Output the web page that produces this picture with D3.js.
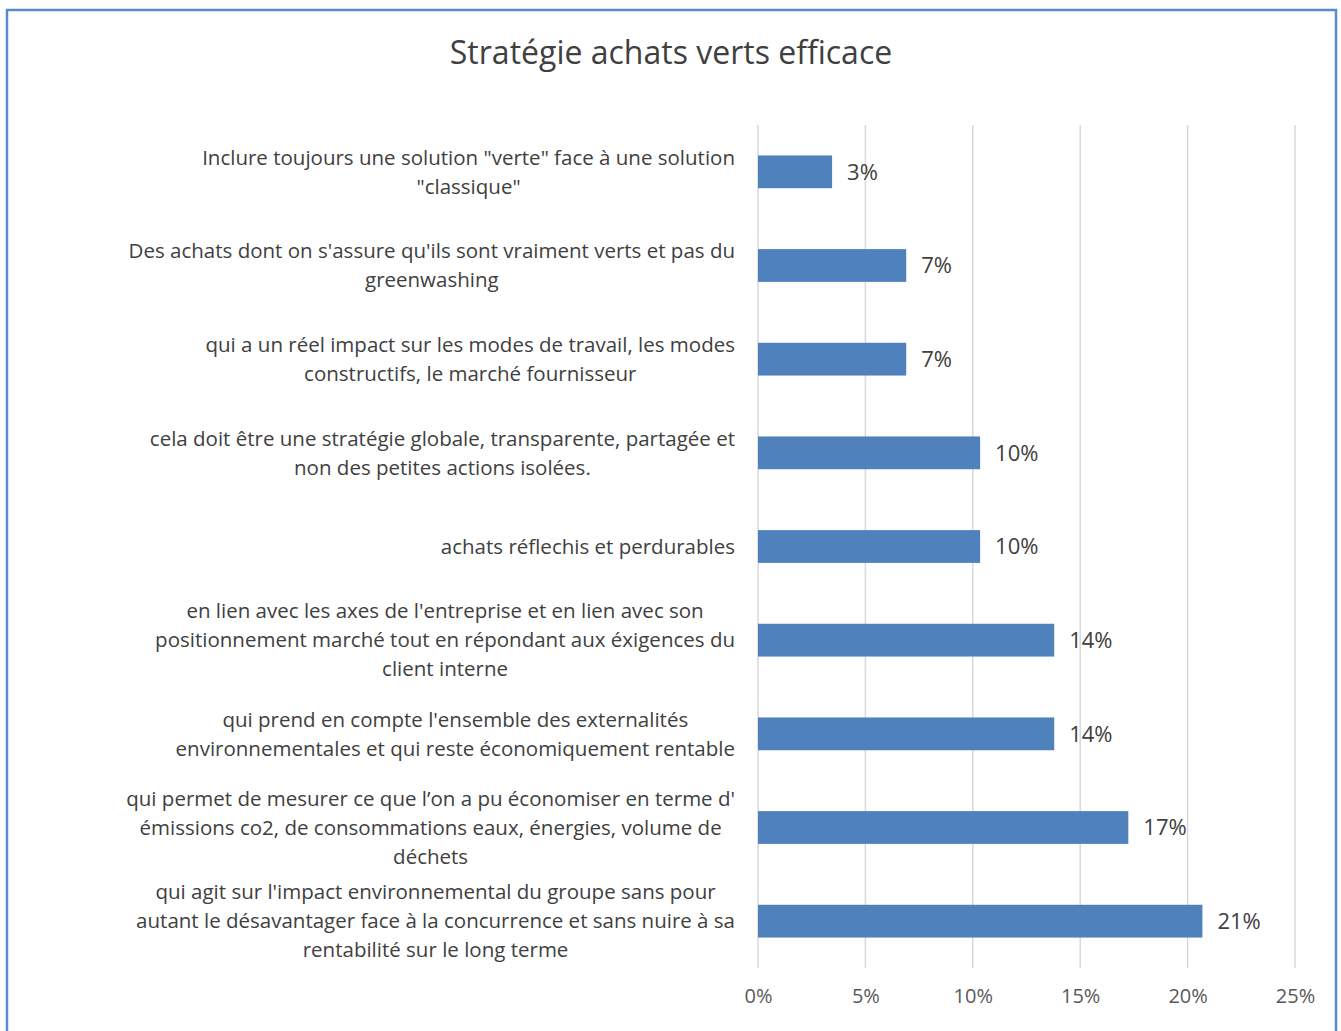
<!DOCTYPE html>
<html>
<head>
<meta charset="utf-8">
<script src="https://cdn.jsdelivr.net/npm/d3@7"></script>
<style>
  body { margin: 0; background: #fff; }
  svg { display: block; font-family: "Open Sans", sans-serif; }
</style>
</head>
<body>
<svg id="chart"></svg>
<script>
var width = 1341, height = 1031;

// answers, one entry per bar, each split into its printed lines
var categories = [
  ["Inclure toujours une solution \"verte\" face à une solution", "\"classique\""],
  ["Des achats dont on s'assure qu'ils sont vraiment verts et pas du", "greenwashing"],
  ["qui a un réel impact sur les modes de travail, les modes", "constructifs, le marché fournisseur"],
  ["cela doit être une stratégie globale, transparente, partagée et", "non des petites actions isolées."],
  ["achats réflechis et perdurables"],
  ["en lien avec les axes de l'entreprise et en lien avec son", "positionnement marché tout en répondant aux éxigences du", "client interne"],
  ["qui prend en compte l'ensemble des externalités", "environnementales et qui reste économiquement rentable"],
  ["qui permet de mesurer ce que l\u2019on a pu économiser en terme d'", "émissions co2, de consommations eaux, énergies, volume de", "déchets"],
  ["qui agit sur l'impact environnemental du groupe sans pour", "autant le désavantager face à la concurrence et sans nuire à sa", "rentabilité sur le long terme"]
];
var values = [0.0345, 0.069, 0.069, 0.1034, 0.1034, 0.1379, 0.1379, 0.1724, 0.2069];
var ticks = [0, 0.05, 0.10, 0.15, 0.20, 0.25];

var svg = d3.select("#chart").attr("width", width).attr("height", height);

// outer frame
svg.append("rect")
  .attr("x", 7).attr("y", 10)
  .attr("width", 1329).attr("height", 1040)
  .attr("fill", "none")
  .attr("stroke", "#5a8ac9")
  .attr("stroke-width", 2.5);

svg.append("text")
  .attr("x", 671).attr("y", 64)
  .attr("text-anchor", "middle")
  .attr("font-size", 32)
  .attr("fill", "#404040")
  .text("Stratégie achats verts efficace");

var xScale = d3.scaleLinear().domain([0, 0.25]).range([758, 1295]);
var yScale = d3.scaleBand()
  .domain(d3.range(categories.length))
  .range([125, 968])
  .paddingInner(0.65)
  .paddingOuter(0.325);

// vertical gridlines
svg.append("g").selectAll("line")
  .data(ticks)
  .join("line")
  .attr("x1", d => xScale(d)).attr("x2", d => xScale(d))
  .attr("y1", 125).attr("y2", 968)
  .attr("stroke", "#d9d9d9")
  .attr("stroke-width", 1.5);

var xAxis = d3.axisBottom(xScale)
  .tickValues(ticks)
  .tickFormat(d3.format(".0%"))
  .tickSize(0)
  .tickPadding(21);

var gx = svg.append("g").attr("transform", "translate(0,968)").call(xAxis);
gx.select(".domain").remove();
gx.selectAll("text")
  .attr("font-family", "Open Sans, sans-serif")
  .attr("font-size", 20)
  .attr("fill", "#595959");

svg.append("g").selectAll("rect")
  .data(values)
  .join("rect")
  .attr("x", xScale(0))
  .attr("y", (d, i) => yScale(i))
  .attr("width", d => xScale(d) - xScale(0))
  .attr("height", yScale.bandwidth())
  .attr("fill", "#4f81bd");

svg.append("g").selectAll("text")
  .data(values)
  .join("text")
  .attr("x", d => xScale(d) + 15)
  .attr("y", (d, i) => yScale(i) + yScale.bandwidth() / 2)
  .attr("dy", "0.35em")
  .attr("font-size", 22)
  .attr("fill", "#404040")
  .text(d => Math.round(d * 100) + "%");

// category labels: lines centred among themselves, block right-aligned
var lineH = 29;
categories.forEach(function(lines, i) {
  var cy = yScale(i) + yScale.bandwidth() / 2;
  var g = svg.append("g");
  var t = g.selectAll("text")
    .data(lines)
    .join("text")
    .attr("x", 0)
    .attr("y", (d, j) => cy + (j - (lines.length - 1) / 2) * lineH)
    .attr("dy", "0.35em")
    .attr("text-anchor", "middle")
    .attr("font-size", 20.5)
    .attr("fill", "#404040")
    .text(d => d);
  var w = d3.max(t.nodes(), n => n.getComputedTextLength());
  g.attr("transform", "translate(" + (735 - w / 2) + ",0)");
});
</script>
</body>
</html>
